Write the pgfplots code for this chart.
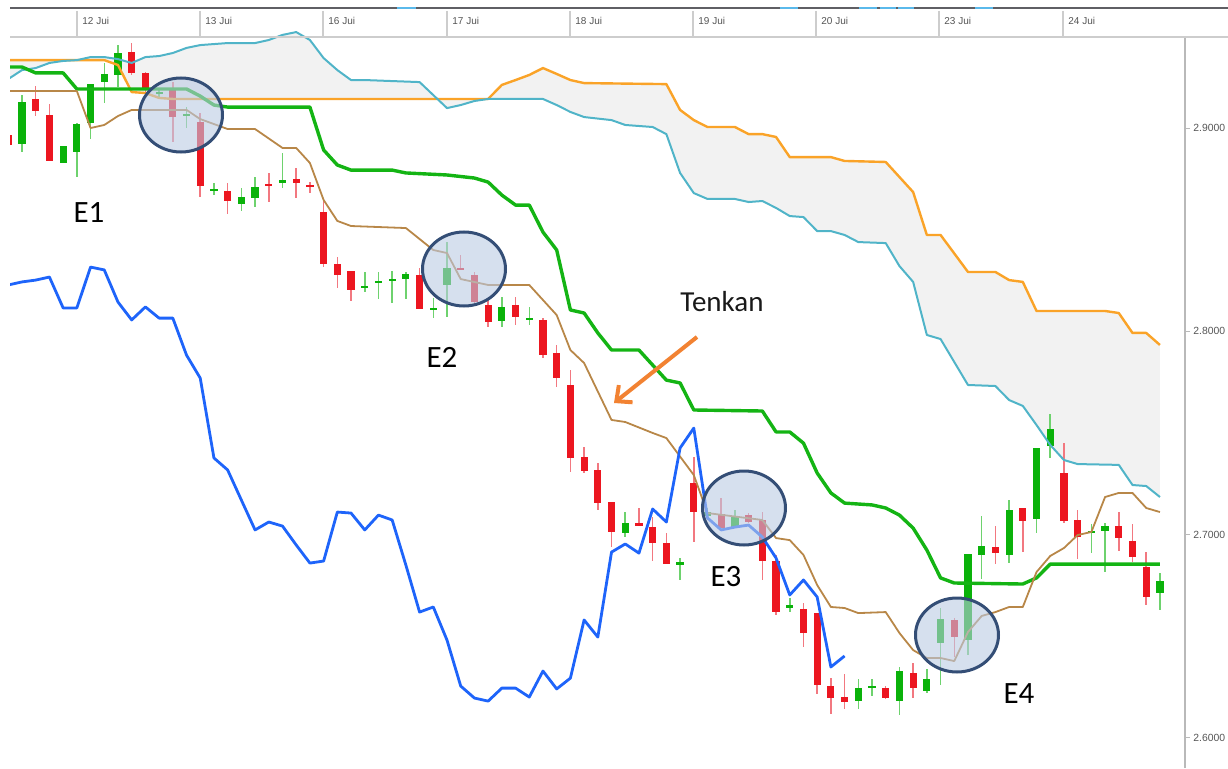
\documentclass[border=0pt]{standalone}
\usepackage{pgfplots}
\pgfplotsset{compat=1.18}
\usepackage{pgfplotstable}
\usepgfplotslibrary{fillbetween}
\usetikzlibrary{arrows.meta}
\usepackage{fontspec}
\setmainfont{Liberation Sans}
\newfontfamily\calib{Carlito}

\definecolor{cRed}{RGB}{236,22,32}
\definecolor{cGreen}{RGB}{10,178,10}
\definecolor{wRed}{RGB}{242,120,128}
\definecolor{wGreen}{RGB}{110,210,110}
\definecolor{cOrange}{RGB}{250,163,40}
\definecolor{cTeal}{RGB}{80,180,200}
\definecolor{cKijun}{RGB}{20,180,20}
\definecolor{cTenkan}{RGB}{184,135,72}
\definecolor{cChikou}{RGB}{30,100,250}
\definecolor{cCloud}{RGB}{242,242,242}
\definecolor{ellFill}{RGB}{187,203,227}
\definecolor{ellLine}{RGB}{52,78,118}
\definecolor{arrowOrange}{RGB}{242,130,50}
\definecolor{hdrLine}{RGB}{95,95,100}
\definecolor{hdrBlue}{RGB}{90,185,235}
\definecolor{sepGray}{RGB}{205,205,205}
\definecolor{txtGray}{RGB}{85,85,85}

% candles: index, open, high, low, close
\pgfplotstableread{
i o h l c
0 2.8966 2.8990 2.8892 2.8916
2 2.9143 2.9207 2.9059 2.9084
3 2.9064 2.9118 2.8838 2.8838
9 2.9374 2.9418 2.9261 2.9271
10 2.9271 2.9275 2.9172 2.9187
12 2.9187 2.9226 2.8931 2.9054
14 2.9029 2.9074 2.8661 2.8715
16 2.8690 2.8729 2.8577 2.8641
19 2.8725 2.8779 2.8636 2.8715
21 2.8749 2.8803 2.8656 2.8729
22 2.8720 2.8734 2.8680 2.8710
23 2.8587 2.8646 2.8316 2.8331
24 2.8331 2.8365 2.8213 2.8277
25 2.8297 2.8297 2.8149 2.8203
30 2.8277 2.8311 2.8110 2.8110
33 2.8311 2.8375 2.8301 2.8301
34 2.8277 2.8292 2.8139 2.8144
35 2.8129 2.8154 2.8021 2.8046
37 2.8129 2.8169 2.8031 2.8070
39 2.8056 2.8065 2.7869 2.7883
40 2.7893 2.7933 2.7726 2.7770
41 2.7736 2.7810 2.7308 2.7377
42 2.7382 2.7431 2.7303 2.7313
43 2.7318 2.7352 2.7121 2.7155
44 2.7160 2.7160 2.6939 2.7013
46 2.7057 2.7131 2.7042 2.7042
47 2.7037 2.7086 2.6870 2.6959
48 2.6959 2.7008 2.6855 2.6855
50 2.7254 2.7382 2.6964 2.7111
52 2.7101 2.7180 2.7032 2.7032
54 2.7096 2.7106 2.7057 2.7062
55 2.7072 2.7111 2.6777 2.6870
56 2.6870 2.6900 2.6604 2.6619
58 2.6634 2.6663 2.6447 2.6516
59 2.6614 2.6614 2.6216 2.6260
60 2.6255 2.6294 2.6117 2.6196
61 2.6201 2.6314 2.6142 2.6176
64 2.6245 2.6255 2.6191 2.6196
66 2.6319 2.6368 2.6196 2.6245
69 2.6580 2.6590 2.6398 2.6496
72 2.6939 2.7042 2.6855 2.6909
74 2.7131 2.7131 2.6914 2.7067
77 2.7303 2.7450 2.7057 2.7067
78 2.7072 2.7121 2.6880 2.6988
81 2.7042 2.7111 2.6919 2.6983
82 2.6968 2.7052 2.6865 2.6890
83 2.6841 2.6914 2.6654 2.6693
}\redtab

\pgfplotstableread{
i o h l c
1 2.8921 2.9162 2.8882 2.9128
4 2.8828 2.8911 2.8828 2.8911
5 2.8882 2.9025 2.8759 2.9020
6 2.9025 2.9216 2.8946 2.9216
7 2.9226 2.9320 2.9123 2.9266
8 2.9261 2.9408 2.9202 2.9369
11 2.9167 2.9197 2.9148 2.9177
13 2.9059 2.9103 2.9000 2.9069
15 2.8690 2.8729 2.8670 2.8700
17 2.8626 2.8705 2.8592 2.8661
18 2.8656 2.8759 2.8611 2.8710
20 2.8729 2.8877 2.8705 2.8744
26 2.8213 2.8292 2.8193 2.8223
27 2.8238 2.8292 2.8159 2.8247
28 2.8247 2.8297 2.8139 2.8257
29 2.8257 2.8292 2.8159 2.8282
31 2.8105 2.8164 2.8065 2.8115
32 2.8228 2.8439 2.8070 2.8311
36 2.8051 2.8169 2.8021 2.8120
38 2.8058 2.8120 2.8031 2.8068
45 2.7008 2.7111 2.6988 2.7057
49 2.6850 2.6885 2.6777 2.6865
51 2.7091 2.7131 2.7072 2.7111
53 2.7037 2.7121 2.7037 2.7086
57 2.6639 2.6688 2.6619 2.6654
62 2.6181 2.6289 2.6142 2.6245
63 2.6245 2.6289 2.6206 2.6255
65 2.6181 2.6349 2.6112 2.6329
67 2.6230 2.6339 2.6221 2.6289
68 2.6467 2.6639 2.6260 2.6585
70 2.6481 2.6905 2.6408 2.6905
71 2.6900 2.7091 2.6781 2.6944
73 2.6900 2.7170 2.6860 2.7121
75 2.7077 2.7426 2.7008 2.7426
76 2.7436 2.7593 2.7377 2.7519
79 2.7008 2.7052 2.6909 2.7018
80 2.7018 2.7057 2.6816 2.7042
84 2.6713 2.6811 2.6629 2.6772
}\greentab

\pgfplotstableread{
i p
0 2.9334
7 2.9334
8 2.9310
9 2.9177
10 2.9172
11 2.9148
12 2.9143
35 2.9143
36 2.9212
37 2.9236
38 2.9261
39 2.9295
40 2.9266
41 2.9236
42 2.9221
48 2.9216
49 2.9089
50 2.9039
51 2.9005
53 2.9005
54 2.8970
55 2.8970
56 2.8956
57 2.8857
60 2.8857
61 2.8838
64 2.8833
66 2.8685
67 2.8474
68 2.8474
70 2.8292
72 2.8292
73 2.8252
74 2.8243
75 2.8100
80 2.8100
81 2.8090
82 2.7992
83 2.7992
84 2.7933
}\orangetab

\pgfplotstableread{
i p
0 2.9241
1 2.9285
2 2.9295
3 2.9320
4 2.9330
5 2.9334
6 2.9349
7 2.9349
8 2.9339
9 2.9320
10 2.9349
11 2.9354
12 2.9369
13 2.9394
14 2.9408
16 2.9418
18 2.9418
19 2.9433
20 2.9458
21 2.9472
22 2.9433
23 2.9344
24 2.9285
25 2.9236
26 2.9236
30 2.9226
31 2.9162
32 2.9098
33 2.9113
34 2.9133
35 2.9143
39 2.9143
40 2.9113
41 2.9079
42 2.9054
44 2.9039
45 2.9015
47 2.9005
48 2.8970
49 2.8779
50 2.8680
51 2.8651
53 2.8651
54 2.8636
55 2.8641
56 2.8607
57 2.8567
58 2.8562
59 2.8493
60 2.8493
61 2.8474
62 2.8439
64 2.8434
65 2.8321
66 2.8243
67 2.7982
68 2.7962
70 2.7736
72 2.7731
73 2.7662
74 2.7633
75 2.7539
76 2.7441
77 2.7367
78 2.7347
81 2.7343
82 2.7244
83 2.7239
84 2.7185
}\tealtab

\pgfplotstableread{
i p
0 2.9300
1 2.9300
2 2.9271
4 2.9271
5 2.9192
13 2.9192
14 2.9157
15 2.9113
16 2.9103
22 2.9103
23 2.8892
24 2.8818
25 2.8793
28 2.8793
29 2.8779
32 2.8769
34 2.8754
35 2.8734
36 2.8670
37 2.8621
38 2.8621
39 2.8488
40 2.8400
41 2.8105
42 2.8090
43 2.7992
44 2.7908
46 2.7908
47 2.7834
48 2.7760
49 2.7746
50 2.7613
55 2.7608
56 2.7505
57 2.7505
58 2.7450
59 2.7303
60 2.7205
61 2.7155
63 2.7146
64 2.7131
65 2.7096
66 2.7032
67 2.6924
68 2.6787
69 2.6762
74 2.6757
75 2.6787
76 2.6855
84 2.6855
}\kijuntab

\pgfplotstableread{
i p
0 2.9182
5 2.9182
6 2.9000
7 2.9015
8 2.9059
9 2.9089
13 2.9089
14 2.9044
16 2.8995
18 2.8995
20 2.8902
21 2.8902
22 2.8828
23 2.8646
24 2.8543
25 2.8518
27 2.8513
29 2.8508
31 2.8400
32 2.8385
33 2.8257
35 2.8228
38 2.8228
40 2.8080
41 2.7908
42 2.7844
44 2.7564
45 2.7554
47 2.7500
48 2.7475
50 2.7293
51 2.7106
55 2.7072
56 2.6983
57 2.6973
58 2.6900
59 2.6752
60 2.6644
61 2.6639
62 2.6614
64 2.6619
65 2.6516
66 2.6432
67 2.6393
68 2.6393
69 2.6378
70 2.6521
71 2.6600
72 2.6619
73 2.6644
74 2.6644
75 2.6816
76 2.6895
77 2.6934
78 2.6998
79 2.7013
80 2.7185
81 2.7205
82 2.7205
83 2.7131
84 2.7111
}\tenkantab

\pgfplotstableread{
i p
0 2.8228
1 2.8243
2 2.8252
3 2.8267
4 2.8115
5 2.8115
6 2.8316
7 2.8302
8 2.8144
9 2.8056
10 2.8120
11 2.8065
12 2.8065
13 2.7883
14 2.7770
15 2.7377
16 2.7318
17 2.7170
18 2.7023
19 2.7062
20 2.7042
21 2.6949
22 2.6860
23 2.6870
24 2.7111
25 2.7106
26 2.7023
27 2.7096
28 2.7072
29 2.6850
30 2.6619
31 2.6644
32 2.6481
33 2.6255
34 2.6196
35 2.6181
36 2.6245
37 2.6245
38 2.6201
39 2.6329
40 2.6241
41 2.6294
42 2.6580
43 2.6496
44 2.6914
45 2.6954
46 2.6909
47 2.7126
48 2.7062
49 2.7426
50 2.7524
51 2.7082
52 2.7023
53 2.7037
54 2.7047
55 2.6988
56 2.6885
57 2.6703
58 2.6777
59 2.6693
60 2.6349
61 2.6403
}\chikoutab

\begin{document}
\begin{tikzpicture}
\begin{axis}[
  at={(5pt,0pt)}, anchor=south west,
  scale only axis, width=587.5pt, height=370pt,
  xmin=0.124, xmax=85.83, ymin=2.5852, ymax=2.9492,
  axis x line=none, axis y line*=right,
  axis line style={-, draw=gray!55, line width=0.9pt},
  ytick={2.6,2.7,2.8,2.9},
  tick align=outside, major tick length=2.5pt,
  tick style={draw=gray!55, line width=0.5pt},
  yticklabel style={font=\fontsize{5.2}{6}\selectfont, text=txtGray, inner sep=1pt, xshift=0.5pt},
  /pgf/number format/.cd, fixed, fixed zerofill, precision=4, assume math mode=true,
]
% cloud
\addplot[draw=none, name path=spanA, forget plot] table[x=i,y=p]{\orangetab};
\addplot[draw=none, name path=spanB, forget plot] table[x=i,y=p]{\tealtab};
\addplot[cCloud, forget plot] fill between[of=spanA and spanB];

% candle wicks
\addplot[draw=none, mark=none, forget plot,
  error bars/.cd, y dir=both, y explicit, error mark=none,
  error bar style={draw=wRed, line width=0.75pt}]
  table[x=i, y expr={(\thisrow{h}+\thisrow{l})/2}, y error expr={(\thisrow{h}-\thisrow{l})/2}]{\redtab};
\addplot[draw=none, mark=none, forget plot,
  error bars/.cd, y dir=both, y explicit, error mark=none,
  error bar style={draw=wGreen, line width=0.75pt}]
  table[x=i, y expr={(\thisrow{h}+\thisrow{l})/2}, y error expr={(\thisrow{h}-\thisrow{l})/2}]{\greentab};
% candle bodies
\addplot[draw=none, mark=none, forget plot,
  error bars/.cd, y dir=both, y explicit, error mark=none,
  error bar style={draw=cRed, line width=3.6pt}]
  table[x=i, y expr={(\thisrow{o}+\thisrow{c})/2}, y error expr={(\thisrow{o}-\thisrow{c})/2}]{\redtab};
\addplot[draw=none, mark=none, forget plot,
  error bars/.cd, y dir=both, y explicit, error mark=none,
  error bar style={draw=cGreen, line width=3.6pt}]
  table[x=i, y expr={(\thisrow{o}+\thisrow{c})/2}, y error expr={(\thisrow{c}-\thisrow{o})/2}]{\greentab};

% ichimoku lines
\addplot[cOrange, line width=1.2pt, line join=round] table[x=i,y=p]{\orangetab};
\addplot[cTeal, line width=1pt, line join=round] table[x=i,y=p]{\tealtab};
\addplot[cKijun, line width=1.7pt, line join=round] table[x=i,y=p]{\kijuntab};
\addplot[cTenkan, line width=0.9pt, line join=round] table[x=i,y=p]{\tenkantab};
\addplot[cChikou, line width=1.4pt, line join=round] table[x=i,y=p]{\chikoutab};
\end{axis}

% annotations in pixel units of the reference (origin top left)
\begin{scope}[x=0.5pt, y=-0.5pt, yshift=384pt]
  \fill[white] (10,0) rectangle (1228,27);
  \fill[white] (1182,26) rectangle (1228,37);
  \draw[hdrLine, line width=1pt] (10,8) -- (1228,8);
  \foreach \a/\b in {397/416, 780/798, 859/877, 880/896, 898/914, 975/993}
    \draw[hdrBlue, line width=1pt] (\a,8) -- (\b,8);
  \draw[sepGray, line width=1pt] (10,37) -- (1228,37);
  \foreach \xx/\lab in {77/12 Jui, 200/13 Jui, 323/16 Jui, 447/17 Jui, 570/18 Jui, 693/19 Jui, 816/20 Jui, 939/23 Jui, 1063/24 Jui} {
    \draw[sepGray, line width=0.6pt] (\xx,11) -- (\xx,37);
    \node[anchor=west, font=\fontsize{5}{6}\selectfont, text=txtGray, inner sep=0pt] at (\xx+5,21) {\lab};
  }
  % ellipses
  \foreach \cx/\cy in {181/115, 464/269, 744/508, 957/635}
    \draw[draw=ellLine, line width=1.5pt, fill=ellFill, fill opacity=0.6] (\cx,\cy) ellipse [x radius=41.5, y radius=37];
  % labels
  \node[font=\calib\fontsize{15.5}{18}\selectfont, text=black] at (89,213) {E1};
  \node[font=\calib\fontsize{15.5}{18}\selectfont, text=black] at (442,357) {E2};
  \node[font=\calib\fontsize{15.5}{18}\selectfont, text=black] at (726,577) {E3};
  \node[font=\calib\fontsize{15.5}{18}\selectfont, text=black] at (1019,694) {E4};
  \node[font=\calib\fontsize{14.5}{17}\selectfont, text=black!90] at (722,302) {Tenkan};
  \draw[arrowOrange, line width=2pt, -{Straight Barb[length=6pt,width=11pt]}] (697,337) -- (614,403);
\end{scope}
\pgfresetboundingbox
\useasboundingbox (0,0) rectangle (614pt,384pt);
\end{tikzpicture}
\end{document}
